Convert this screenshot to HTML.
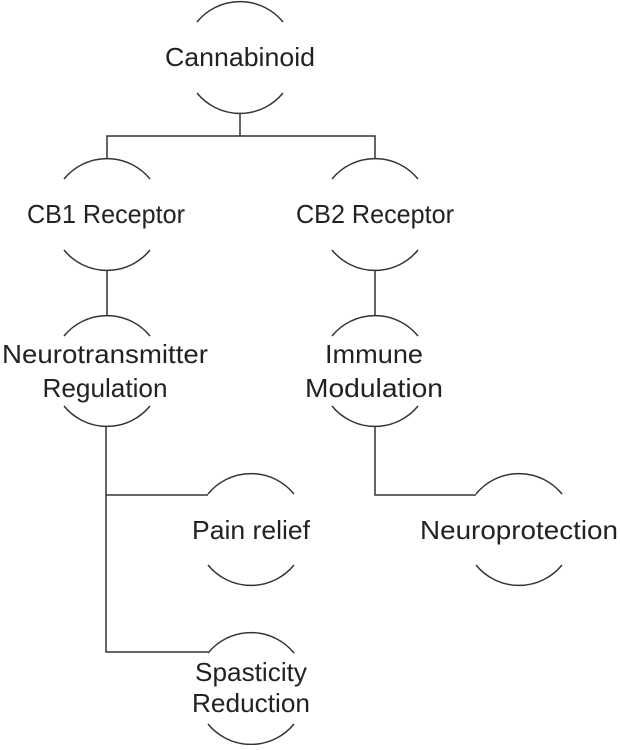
<!DOCTYPE html>
<html><head><style>html,body{margin:0;padding:0;background:#fff}</style></head>
<body>
<svg width="620" height="745" viewBox="0 0 620 745" xmlns="http://www.w3.org/2000/svg">
<g fill="none" stroke="#333" stroke-width="1.5">
<path d="M197 22 A55.5 55.5 0 0 1 283 22 M197 93 A55.5 55.5 0 0 0 283 93"/>
<path d="M64 179 A55.5 55.5 0 0 1 150 179 M64 250 A55.5 55.5 0 0 0 150 250"/>
<path d="M332 179 A55.5 55.5 0 0 1 418 179 M332 250 A55.5 55.5 0 0 0 418 250"/>
<path d="M64 336 A55.5 55.5 0 0 1 150 336 M64 406 A55.5 55.5 0 0 0 150 406"/>
<path d="M332 336 A55.5 55.5 0 0 1 418 336 M332 406 A55.5 55.5 0 0 0 418 406"/>
<path d="M208 494 A55.5 55.5 0 0 1 294 494 M208 565 A55.5 55.5 0 0 0 294 565"/>
<path d="M476 494 A55.5 55.5 0 0 1 562 494 M476 565 A55.5 55.5 0 0 0 562 565"/>
<path d="M208 653 A55.5 55.5 0 0 1 294 653 M208 724 A55.5 55.5 0 0 0 294 724"/>
<path d="M240 113 V136 M107 158 V136 H375 V158"/>
<path d="M107 271 V315 M375 271 V315"/>
<path d="M106 427 V652 H208 M106 495 H208"/>
<path d="M375 427 V495 H476"/>
</g>
<g font-family="Liberation Sans, sans-serif" font-size="26" fill="#222" text-anchor="middle">
<text x="240" y="66" textLength="150" lengthAdjust="spacingAndGlyphs">Cannabinoid</text>
<text x="106" y="223" textLength="158" lengthAdjust="spacingAndGlyphs">CB1 Receptor</text>
<text x="375" y="223" textLength="158" lengthAdjust="spacingAndGlyphs">CB2 Receptor</text>
<text x="105" y="363" textLength="206" lengthAdjust="spacingAndGlyphs">Neurotransmitter</text>
<text x="105" y="397" textLength="125" lengthAdjust="spacingAndGlyphs">Regulation</text>
<text x="374" y="363" textLength="98" lengthAdjust="spacingAndGlyphs">Immune</text>
<text x="374" y="397" textLength="138" lengthAdjust="spacingAndGlyphs">Modulation</text>
<text x="251" y="539" textLength="118" lengthAdjust="spacingAndGlyphs">Pain relief</text>
<text x="519" y="539" textLength="198" lengthAdjust="spacingAndGlyphs">Neuroprotection</text>
<text x="251" y="681" textLength="112" lengthAdjust="spacingAndGlyphs">Spasticity</text>
<text x="251" y="712" textLength="118" lengthAdjust="spacingAndGlyphs">Reduction</text>
</g>
</svg>
</body></html>
